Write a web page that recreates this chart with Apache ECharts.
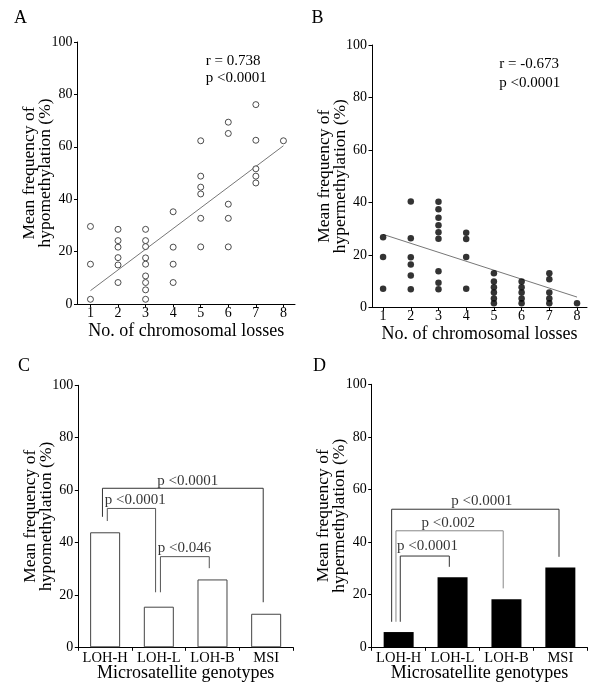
<!DOCTYPE html>
<html>
<head>
<meta charset="utf-8">
<script src="https://cdn.jsdelivr.net/npm/echarts@6/dist/echarts.min.js"></script>
<style>html,body{margin:0;padding:0;background:#fff}#c{width:600px;height:696px}</style>
</head>
<body>
<div id="c"></div>
<script>
// ---- Data ----
const lossTicks = [1, 2, 3, 4, 5, 6, 7, 8];
const yTicks = [0, 20, 40, 60, 80, 100];
// Panel A: hypomethylation vs chromosomal losses
const hypoLosses = [1,1,1, 2,2,2,2,2,2, 3,3,3,3,3,3,3,3,3, 4,4,4,4, 5,5,5,5,5,5, 6,6,6,6,6, 7,7,7,7,7, 8];
const hypoFreq   = [29.6,15.2,1.8, 28.5,24.2,21.7,17.7,14.9,8.2, 28.5,24.2,21.9,17.6,15.2,10.7,8.2,5.4,1.8, 35.2,21.7,15.2,8.2, 62.3,48.8,44.6,42.0,32.7,21.8, 69.4,65.1,38.1,32.7,21.8, 76.1,62.5,51.6,48.8,46.2, 62.3];
const hypoTrendX = [1, 8];
const hypoTrendY = [5.1, 60.4];
// Panel B: hypermethylation vs chromosomal losses
const hyperLosses = [1,1,1, 2,2,2,2,2,2, 3,3,3,3,3,3,3,3,3, 4,4,4,4, 5,5,5,5,5,5, 6,6,6,6,6, 7,7,7,7,7, 8];
const hyperFreq   = [26.7,19.2,7.1, 40.3,26.3,19.1,16.3,12.1,6.9, 40.2,37.4,34.1,31.3,28.6,26.1,13.7,9.4,6.9, 28.4,26.0,19.2,7.1, 13.0,9.8,7.6,5.6,3.4,1.5, 9.8,7.6,5.6,3.4,1.5, 13.0,10.7,5.6,3.4,1.5, 1.5];
const hyperTrendX = [1, 8];
const hyperTrendY = [27.8, 3.9];
// Panels C, D
const genotypes = ['LOH-H', 'LOH-L', 'LOH-B', 'MSI'];
const hypoByGenotype  = [43.9, 15.5, 25.9, 12.8];
const hyperByGenotype = [5.8, 26.6, 18.3, 30.3];
// significance brackets: [xLeft, yLeftBottom, xRight, yRightBottom, yTop]
const bracketsC = [
  [-0.05, 49.8, 2.945, 17.2, 60.7],
  [0.04, 48.2, 0.94, 21.0, 53.0],
  [1.03, 21.0, 1.94, 30.2, 34.6]
];
const bracketLabelsC = ['p <0.0001', 'p <0.0001', 'p <0.046'];
const bracketLabelPosC = [[1.54, 63.6], [0.56, 56.2], [1.48, 37.8]];
const bracketsD = [
  [-0.13, 9.7, 2.975, 34.4, 52.5],
  [-0.05, 9.7, 1.94, 22.4, 44.3],
  [0.03, 9.7, 0.94, 30.6, 34.7]
];
const bracketLabelsD = ['p <0.0001', 'p <0.002', 'p <0.0001'];
const bracketLabelPosD = [[1.54, 55.6], [0.92, 47.1], [0.535, 38.5]];

// ---- Chart ----
const FONT = 'Liberation Serif';
const chart = echarts.init(document.getElementById('c'), null, {renderer: 'canvas'});

const grids = [
  {left: 77.5, top: 42, width: 217.5, height: 262},
  {left: 372, top: 45, width: 215, height: 262.3},
  {left: 78.3, top: 385.3, width: 214.7, height: 262},
  {left: 371.7, top: 384.3, width: 215.6, height: 263}
];

function yAx(gi, name) {
  return {
    type: 'value', gridIndex: gi, min: 0, max: 100, interval: 20,
    name: name, nameLocation: 'middle', nameRotate: 90, nameGap: 24,
    nameMoveOverlap: false,
    nameTextStyle: {fontFamily: FONT, fontSize: 17.5, color: '#000', lineHeight: 16},
    axisLine: {show: true, onZero: false, lineStyle: {color: '#000', width: 1}},
    axisTick: {show: true, length: 3.5, lineStyle: {color: '#000'}},
    axisLabel: {fontFamily: FONT, fontSize: 14, color: '#000', margin: 5},
    splitLine: {show: false}
  };
}
function xValAx(gi, min, max) {
  return {
    type: 'value', gridIndex: gi, min: min, max: max,
    name: 'No. of chromosomal losses', nameLocation: 'middle', nameGap: 18,
    nameMoveOverlap: false,
    nameTextStyle: {fontFamily: FONT, fontSize: 18, color: '#000'},
    axisLine: {show: true, onZero: false, lineStyle: {color: '#000', width: 1}},
    axisTick: {show: true, length: 3.5, customValues: lossTicks, lineStyle: {color: '#000'}},
    axisLabel: {fontFamily: FONT, fontSize: 14, color: '#000', margin: 2, customValues: lossTicks},
    splitLine: {show: false}
  };
}
function xCatAx(gi) {
  return {
    type: 'category', gridIndex: gi, data: genotypes,
    name: 'Microsatellite genotypes', nameLocation: 'middle', nameGap: 17,
    nameMoveOverlap: false,
    nameTextStyle: {fontFamily: FONT, fontSize: 18, color: '#000'},
    axisLine: {show: true, onZero: false, lineStyle: {color: '#000', width: 1}},
    axisTick: {show: true, length: 3.5, lineStyle: {color: '#000'}},
    axisLabel: {fontFamily: FONT, fontSize: 14.5, color: '#000', margin: 3, interval: 0},
    splitLine: {show: false}
  };
}
function xHidden(gi) {
  return {type: 'value', gridIndex: gi, min: -0.5, max: 3.5, show: false,
          axisLine: {show: false, onZero: false}, splitLine: {show: false}};
}

function zip(xs, ys) { return xs.map((x, i) => [x, ys[i]]); }

function bracketSeries(xi, yi, br, color) {
  return {
    type: 'line', xAxisIndex: xi, yAxisIndex: yi, silent: true,
    symbol: 'none', animation: false,
    lineStyle: {color: color, width: 1},
    data: [[br[0], br[1]], [br[0], br[4]], [br[2], br[4]], [br[2], br[3]]]
  };
}
function labelSeries(xi, yi, pos, labels) {
  return {
    type: 'scatter', xAxisIndex: xi, yAxisIndex: yi, silent: true, symbolSize: 0,
    animation: false,
    label: {show: true, position: 'inside', formatter: p => p.name,
            fontFamily: FONT, fontSize: 15, color: '#000'},
    data: pos.map((p, i) => ({name: labels[i], value: p}))
  };
}

const series = [
  {type: 'scatter', xAxisIndex: 0, yAxisIndex: 0, symbol: 'circle', symbolSize: 6,
   itemStyle: {color: '#fff', borderColor: '#222', borderWidth: 1}, animation: false,
   data: zip(hypoLosses, hypoFreq), z: 3},
  {type: 'line', xAxisIndex: 0, yAxisIndex: 0, symbol: 'none', animation: false,
   lineStyle: {color: '#777', width: 1}, data: zip(hypoTrendX, hypoTrendY)},
  {type: 'scatter', xAxisIndex: 1, yAxisIndex: 1, symbol: 'circle', symbolSize: 6.5,
   itemStyle: {color: '#000'}, animation: false,
   data: zip(hyperLosses, hyperFreq), z: 3},
  {type: 'line', xAxisIndex: 1, yAxisIndex: 1, symbol: 'none', animation: false,
   lineStyle: {color: '#777', width: 1}, data: zip(hyperTrendX, hyperTrendY)},
  {type: 'bar', xAxisIndex: 2, yAxisIndex: 2, barWidth: 30, animation: false,
   itemStyle: {color: '#fff', borderColor: '#444', borderWidth: 1}, data: hypoByGenotype},
  {type: 'bar', xAxisIndex: 4, yAxisIndex: 3, barWidth: 30, animation: false,
   itemStyle: {color: '#000'}, data: hyperByGenotype},
  bracketSeries(3, 2, bracketsC[0], '#333'),
  bracketSeries(3, 2, bracketsC[1], '#555'),
  bracketSeries(3, 2, bracketsC[2], '#555'),
  labelSeries(3, 2, bracketLabelPosC, bracketLabelsC),
  bracketSeries(5, 3, bracketsD[0], '#333'),
  bracketSeries(5, 3, bracketsD[1], '#888'),
  bracketSeries(5, 3, bracketsD[2], '#333'),
  labelSeries(5, 3, bracketLabelPosD, bracketLabelsD)
];

function txt(x, y, s, size) {
  return {type: 'text', x: x, y: y, silent: true,
          style: {text: s, fontFamily: FONT, fontSize: size, fill: '#000', verticalAlign: 'middle'}};
}

chart.setOption({
  animation: false,
  backgroundColor: '#fff',
  grid: grids,
  xAxis: [xValAx(0, 0.53, 8.42), xValAx(1, 0.6, 8.36), xCatAx(2), xHidden(2), xCatAx(3), xHidden(3)],
  yAxis: [
    yAx(0, 'Mean frequency of\nhypomethylation (%)'),
    yAx(1, 'Mean frequency of\nhypermethylation (%)'),
    yAx(2, 'Mean frequency of\nhypomethylation (%)'),
    yAx(3, 'Mean frequency of\nhypermethylation (%)')
  ],
  series: series,
  graphic: [
    txt(14, 18, 'A', 18), txt(311.5, 18, 'B', 18), txt(18, 366.5, 'C', 18), txt(313, 366, 'D', 18),
    txt(205.7, 61, 'r = 0.738', 15), txt(205.7, 77.7, 'p <0.0001', 15),
    txt(499.3, 64.3, 'r = -0.673', 15), txt(499.3, 82.7, 'p <0.0001', 15)
  ]
});
</script>
</body>
</html>
